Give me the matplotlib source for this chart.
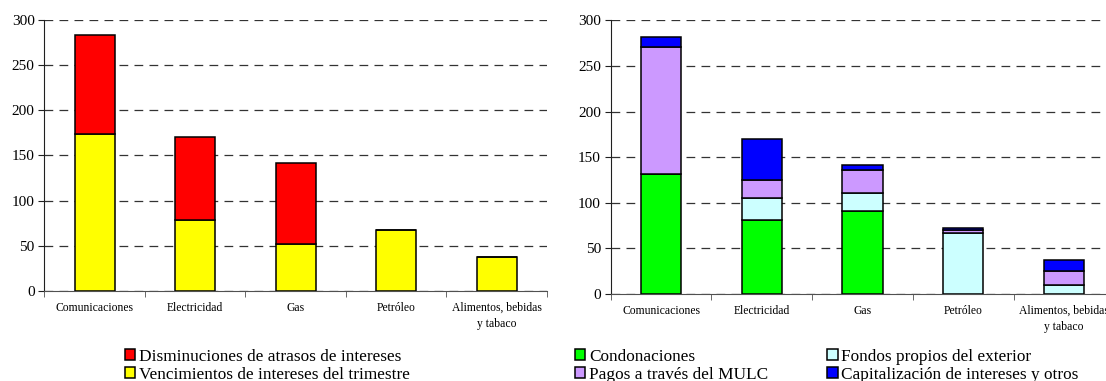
import numpy as np
import matplotlib
matplotlib.use("Agg")
from matplotlib import pyplot as plt
from matplotlib.patches import Patch

plt.rcParams['font.family'] = ['Liberation Serif', 'DejaVu Serif']

sectores = ['Comunicaciones', 'Electricidad', 'Gas', 'Petróleo', 'Alimentos, bebidas\ny tabaco']

# panel izquierdo
vencimientos = [174, 78.5, 52, 68, 37.5]
disminuciones = [109, 91.5, 89.5, 0, 0]

# panel derecho
condonaciones = [131, 81, 91.5, 0, 0]
fondos_propios = [0, 24, 19.5, 67, 10]
pagos_mulc = [140, 20, 25, 3, 15.5]
capitalizacion = [11, 45, 5.5, 2.5, 12]

EDGE = 'black'
LW = 1.1

fig = plt.figure(figsize=(11.06, 3.81), dpi=100)
ax1 = fig.add_axes([0.0401, 0.2362, 0.4545, 0.7121])
ax2 = fig.add_axes([0.5522, 0.2283, 0.4554, 0.7184])


def style_axis(ax, labels):
    x = np.arange(len(labels))
    ax.set_xlim(-0.5, len(labels) - 0.5)
    ax.set_ylim(0, 300)
    ax.set_yticks([0, 50, 100, 150, 200, 250, 300])
    ax.yaxis.grid(True, color='#333333', linestyle=(0, (7, 5)), linewidth=0.9)
    ax.set_axisbelow(True)
    for s in ['top', 'right']:
        ax.spines[s].set_visible(False)
    ax.spines['left'].set_color('#202020')
    ax.spines['bottom'].set_color('#505050')
    ax.set_xticks(x)
    ax.set_xticklabels(labels, fontsize=8.4, linespacing=1.4)
    ax.tick_params(axis='x', which='major', length=0, pad=8)
    ax.set_xticks(np.arange(len(labels) + 1) - 0.5, minor=True)
    ax.tick_params(axis='x', which='minor', length=4, direction='out', color='#505050')
    ax.tick_params(axis='y', length=4, labelsize=11, pad=3, color='#202020')
    return x


x = style_axis(ax1, sectores)
w = 0.4
ax1.bar(x, vencimientos, w, color='#FFFF00', edgecolor=EDGE, linewidth=LW,
        label='Vencimientos de intereses del trimestre')
ax1.bar(x, disminuciones, w, bottom=vencimientos, color='#FF0000', edgecolor=EDGE,
        linewidth=LW, label='Disminuciones de atrasos de intereses')

x = style_axis(ax2, sectores)
b = np.zeros(len(x))
series = [(condonaciones, '#00FF00', 'Condonaciones'),
          (fondos_propios, '#CCFFFF', 'Fondos propios del exterior'),
          (pagos_mulc, '#CC99FF', 'Pagos a través del MULC'),
          (capitalizacion, '#0000FF', 'Capitalización de intereses y otros')]
for vals, col, lab in series:
    v = np.array(vals, dtype=float)
    ax2.bar(x, v, w, bottom=b, color=col, edgecolor=EDGE, linewidth=LW, label=lab)
    b = b + v

legend_kw = dict(frameon=False, fontsize=12.4, handlelength=0.6, handleheight=0.6,
                 handletextpad=0.2, labelspacing=0.12, borderaxespad=0, borderpad=0)

h_left = [Patch(facecolor='#FF0000', edgecolor=EDGE, linewidth=LW),
          Patch(facecolor='#FFFF00', edgecolor=EDGE, linewidth=LW)]
fig.legend(h_left, ['Disminuciones de atrasos de intereses',
                    'Vencimientos de intereses del trimestre'],
           loc='upper left', bbox_to_anchor=(0.113, 0.085), **legend_kw)

h_right = [Patch(facecolor=c, edgecolor=EDGE, linewidth=LW) for _, c, _ in series]
labs = [l for _, _, l in series]
order = [0, 2, 1, 3]
fig.legend([h_right[i] for i in order], [labs[i] for i in order], ncol=2,
           columnspacing=3.45, loc='upper left', bbox_to_anchor=(0.52, 0.085), **legend_kw)

fig.savefig('out.png', dpi=100)
